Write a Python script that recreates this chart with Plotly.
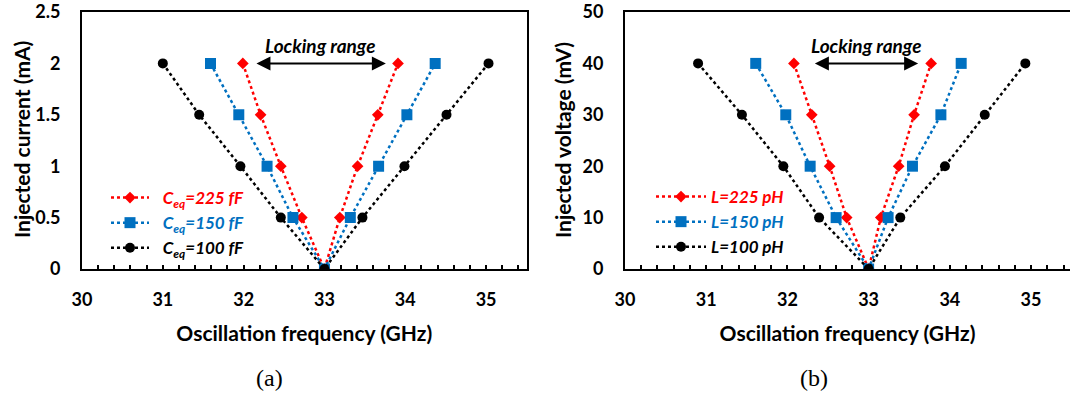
import plotly.graph_objects as go

# ---- data ----
inj_current = [2, 1.5, 1, 0.5, 0, 0.5, 1, 1.5, 2]          # mA
freq_a_225 = [31.99, 32.21, 32.46, 32.72, 33.0, 33.19, 33.41, 33.66, 33.91]
freq_a_150 = [31.59, 31.94, 32.29, 32.61, 33.0, 33.32, 33.67, 34.02, 34.37]
freq_a_100 = [31.00, 31.45, 31.96, 32.46, 33.0, 33.47, 33.99, 34.51, 35.03]

inj_voltage = [40, 30, 20, 10, 0, 10, 20, 30, 40]           # mV
freq_b_225 = [32.08, 32.30, 32.52, 32.73, 33.0, 33.15, 33.37, 33.56, 33.77]
freq_b_150 = [31.61, 31.98, 32.28, 32.60, 33.0, 33.24, 33.54, 33.89, 34.14]
freq_b_100 = [30.90, 31.44, 31.95, 32.39, 33.0, 33.39, 33.94, 34.43, 34.93]

labels_a = ["C<sub>eq</sub>=225 fF", "C<sub>eq</sub>=150 fF", "C<sub>eq</sub>=100 fF"]
labels_b = ["L=225 pH", "L=150 pH", "L=100 pH"]

lock_a = [32.14, 33.76, 2.0]   # arrow start, end, level
lock_b = [32.32, 33.61, 40.0]

colors = ["#FF0000", "#0070C0", "#000000"]
symbols = ["diamond", "square", "circle"]
msizes = [9, 11, 10]

FONT = "Lato"

fig = go.Figure()

series_a = [freq_a_225, freq_a_150, freq_a_100]
series_b = [freq_b_225, freq_b_150, freq_b_100]

for i in range(3):
    fig.add_trace(go.Scatter(
        x=series_a[i], y=inj_current, mode="lines+markers",
        name=f"&nbsp;&nbsp;<span style='color:{colors[i]}'><b><i>{labels_a[i]}</i></b></span>",
        line=dict(color=colors[i], width=2.5, dash="dot"),
        marker=dict(color=colors[i], symbol=symbols[i], size=msizes[i]),
        xaxis="x", yaxis="y", legend="legend", legendgroup=f"a{i}",
    ))
for i in range(3):
    fig.add_trace(go.Scatter(
        x=series_b[i], y=inj_voltage, mode="lines+markers",
        name=f"<span style='color:{colors[i]}'><b><i>{labels_b[i]}</i></b></span>",
        line=dict(color=colors[i], width=2.5, dash="dot"),
        marker=dict(color=colors[i], symbol=symbols[i], size=msizes[i]),
        xaxis="x2", yaxis="y2", legend="legend2", legendgroup=f"b{i}",
    ))

tickfont = dict(family=FONT, size=18, color="black", weight="bold")
titlefont = dict(family=FONT, size=21, color="black", weight="bold")

def xaxis(domain, rng, anchor):
    return dict(
        domain=domain, range=rng, anchor=anchor, automargin=False,
        showline=True, linecolor="black", linewidth=2, mirror=True,
        showgrid=False, zeroline=False,
        tickmode="linear", tick0=30, dtick=1,
        ticks="inside", ticklen=4, tickwidth=2, tickcolor="black",
        minor=dict(dtick=0.2, tick0=30, ticks="inside", ticklen=4, tickwidth=2, tickcolor="black", showgrid=False),
        tickfont=tickfont, ticklabelstandoff=13,
        title=dict(text="Oscillation frequency (GHz)", font=titlefont, standoff=18),
    )

def yaxis(domain, rng, dtick, anchor):
    return dict(
        domain=domain, range=rng, anchor=anchor, automargin=False,
        showline=True, linecolor="black", linewidth=2, mirror=True,
        showgrid=False, zeroline=False,
        tickmode="linear", tick0=0, dtick=dtick, ticks="",
        tickfont=tickfont, ticklabelstandoff=16,
    )

ydom = [1 - 269 / 394, 1 - 12 / 394]
fig.update_layout(
    width=1070, height=394,
    margin=dict(l=0, r=0, t=0, b=0),
    paper_bgcolor="white", plot_bgcolor="white",
    xaxis=xaxis([82 / 1070, 526.5 / 1070], [30, 35.5], "y"),
    yaxis=yaxis(ydom, [0, 2.5], 0.5, "x"),
    xaxis2=xaxis([625 / 1070, 1.0], [30, 35.48], "y2"),
    yaxis2=yaxis(ydom, [0, 50], 10, "x2"),
    legend=dict(x=106 / 1070, y=1 - 180 / 394, xanchor="left", yanchor="top",
                bgcolor="rgba(0,0,0,0)", font=dict(family=FONT, size=17),
                itemwidth=38, tracegroupgap=0),
    legend2=dict(x=651 / 1070, y=1 - 179 / 394, xanchor="left", yanchor="top",
                 bgcolor="rgba(0,0,0,0)", font=dict(family=FONT, size=17),
                 itemwidth=50, tracegroupgap=0),
    showlegend=True,
)

# y-axis titles (rotated)
for xpix, txt in [(22, "Injected current (mA)"), (563, "Injected voltage (mV)")]:
    fig.add_annotation(x=xpix / 1070, y=1 - 140 / 394, xref="paper", yref="paper",
                       xanchor="center", yanchor="middle", textangle=-90,
                       text=f"<b>{txt}</b>", showarrow=False, font=titlefont)

# Locking-range arrows and labels
for (xr, yr, lk, lvl_off) in [("x", "y", lock_a, 0.17), ("x2", "y2", lock_b, 3.5)]:
    fig.add_annotation(x=lk[1], y=lk[2], ax=lk[0], ay=lk[2], xref=xr, yref=yr,
                       axref=xr, ayref=yr, text="", showarrow=True,
                       arrowhead=2, arrowside="end+start", arrowwidth=2, arrowsize=1.4,
                       arrowcolor="black")
    fig.add_annotation(x=(lk[0] + lk[1]) / 2, y=lk[2] + lvl_off, xref=xr, yref=yr,
                       text="<b><i>Locking range</i></b>", showarrow=False,
                       font=dict(family=FONT, size=19, color="black"))

# sub-figure captions
fig.add_annotation(x=269 / 1070, y=1 - 378 / 394, xref="paper", yref="paper",
                   xanchor="center", yanchor="middle",
                   text="(a)", showarrow=False,
                   font=dict(family="Liberation Serif", size=24, color="black"))
fig.add_annotation(x=814 / 1070, y=1 - 378 / 394, xref="paper", yref="paper",
                   xanchor="center", yanchor="middle",
                   text="(b)", showarrow=False,
                   font=dict(family="Liberation Serif", size=24, color="black"))

fig.write_html("out.html")
